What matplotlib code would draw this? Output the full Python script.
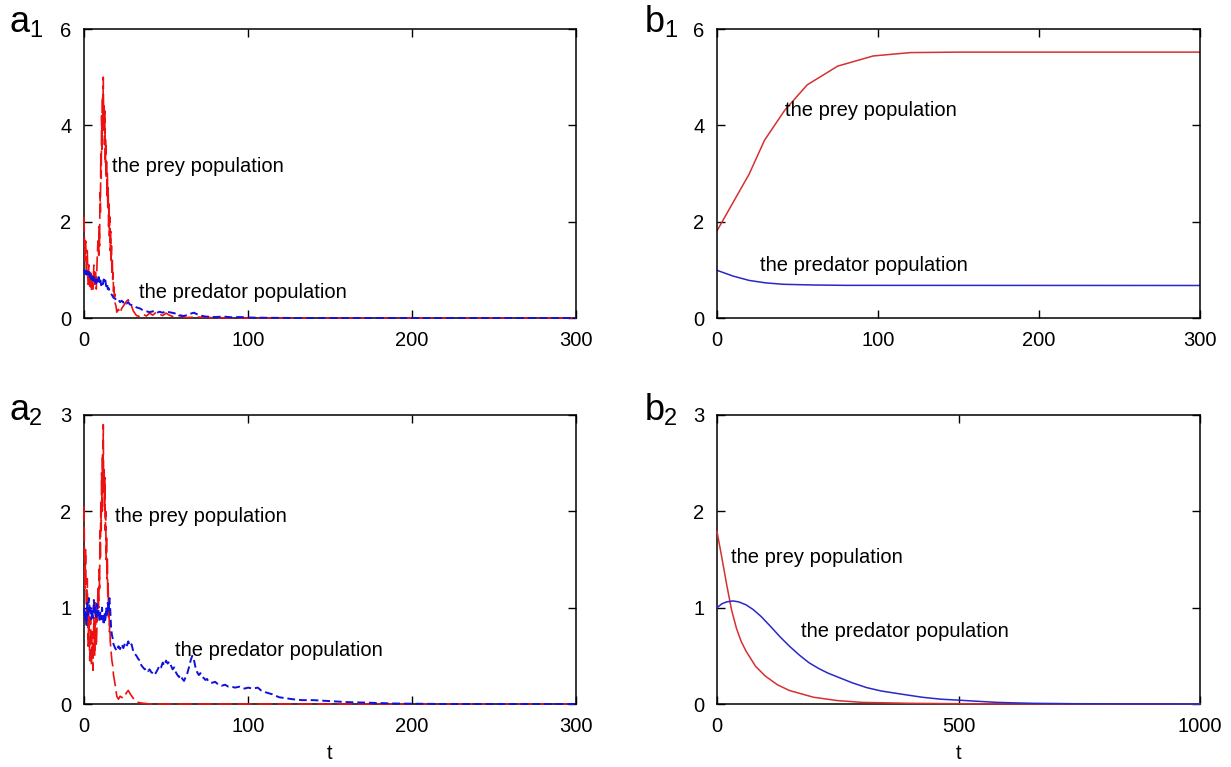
import matplotlib
matplotlib.use("Agg")
import matplotlib.pyplot as plt

plt.rcParams['font.family'] = ['Liberation Sans', 'DejaVu Sans']

# a1: stochastic model, prey and predator
a1_prey_t = [0, 0.5, 1, 1.5, 2, 2.5, 3, 3.5, 4, 4.5, 5, 5.5, 6, 6.5, 7, 7.5, 8, 8.5,
             9, 9.25, 9.5, 9.75, 10, 10.25, 10.5, 10.75, 11, 11.25, 11.5, 11.75, 12, 12.25, 12.5, 12.75,
             13, 13.25, 13.5, 13.75, 14, 14.25, 14.5, 14.75, 15, 15.25, 15.5, 15.75, 16, 16.25, 16.5, 16.75,
             17, 17.25, 17.5, 17.75, 18, 18.25, 18.5, 18.75, 19, 19.5,
             20, 21, 22, 23, 24, 25, 26, 27, 28, 29, 30, 31, 32, 34, 36, 38, 40, 42, 44, 46,
             48, 50, 52, 55, 58, 62, 70, 80, 100, 300]
a1_prey = [2.1, 1.2, 1.6, 0.9, 1.4, 0.7, 1.1, 0.6, 1.0, 0.55, 0.9, 0.6, 1.1, 0.7, 0.95, 0.6, 1.2, 1.6,
           1.3, 1.9, 1.5, 2.6, 2.2, 3.4, 2.9, 4.2, 3.5, 4.6, 3.9, 5.0, 4.0, 4.4, 3.6, 4.3,
           3.2, 3.7, 2.9, 3.3, 2.5, 3.0, 2.3, 2.7, 1.9, 2.4, 1.7, 2.1, 1.4, 1.8, 1.2, 1.5,
           0.95, 1.2, 0.8, 0.95, 0.55, 0.7, 0.45, 0.5, 0.3, 0.25,
           0.12, 0.18, 0.1, 0.2, 0.25, 0.3, 0.35, 0.38, 0.3, 0.25, 0.15, 0.1, 0.05, 0.03, 0.08, 0.04, 0.1, 0.06, 0.12, 0.08,
           0.05, 0.1, 0.06, 0.02, 0.05, 0.01, 0.02, 0.005, 0, 0]

a1_pred_t = [0, 0.5, 1, 1.5, 2, 2.5, 3, 3.5, 4, 4.5, 5, 5.5, 6, 6.5, 7, 7.5, 8, 8.5, 9, 9.5,
             10, 10.5, 11, 11.5, 12, 12.5, 13, 13.5, 14, 14.5, 15, 16, 17, 18, 19, 20, 21, 22, 23, 24,
             25, 26, 27, 28, 30, 32, 34, 36, 38, 40, 42, 44, 46, 48, 50, 52, 55, 58, 61, 64,
             67, 70, 74, 80, 85, 90, 95, 100, 110, 130, 300]
a1_pred = [1.0, 0.92, 1.02, 0.9, 0.97, 0.88, 0.95, 0.85, 0.93, 0.8, 0.88, 0.78, 0.9, 0.75, 0.82, 0.72, 0.8, 0.74, 0.85, 0.7,
           0.78, 0.68, 0.75, 0.7, 0.8, 0.72, 0.78, 0.66, 0.72, 0.6, 0.62, 0.52, 0.48, 0.42, 0.4, 0.36, 0.38, 0.33, 0.36, 0.32,
           0.35, 0.3, 0.33, 0.28, 0.26, 0.22, 0.2, 0.16, 0.14, 0.12, 0.14, 0.1, 0.13, 0.11, 0.14, 0.12, 0.1, 0.06, 0.04, 0.08,
           0.11, 0.06, 0.03, 0.02, 0.03, 0.015, 0.02, 0.01, 0.005, 0, 0]

# a2: stochastic model, second case
a2_prey_t = [0, 0.5, 1, 1.5, 2, 2.5, 3, 3.5, 4, 4.5, 5, 5.5, 6, 6.5, 7, 7.5, 8, 8.5,
             9, 9.25, 9.5, 9.75, 10, 10.25, 10.5, 10.75, 11, 11.25, 11.5, 11.75, 12, 12.25, 12.5, 12.75,
             13, 13.25, 13.5, 13.75, 14, 14.25, 14.5, 14.75, 15, 15.25, 15.5, 15.75, 16, 16.5, 17, 17.5,
             18, 19, 20, 21, 22, 24, 26, 27, 28, 30, 32, 35, 40, 300]
a2_prey = [2.05, 1.2, 1.6, 0.8, 1.3, 0.6, 1.0, 0.45, 0.9, 0.4, 0.75, 0.35, 0.9, 0.5, 1.05, 0.6, 0.85, 1.2,
           1.0, 1.4, 1.2, 1.8, 1.5, 2.1, 1.8, 2.4, 2.0, 2.6, 2.2, 2.9, 2.2, 2.45, 2.0, 2.35,
           1.8, 2.0, 1.5, 1.75, 1.3, 1.5, 1.1, 1.25, 0.9, 1.0, 0.75, 0.85, 0.65, 0.55, 0.45, 0.4,
           0.3, 0.2, 0.08, 0.05, 0.08, 0.06, 0.12, 0.14, 0.11, 0.06, 0.02, 0.01, 0, 0]

a2_pred_t = [0, 0.5, 1, 1.5, 2, 2.5, 3, 3.5, 4, 4.5, 5, 5.5, 6, 6.5, 7, 7.5, 8, 8.5, 9, 9.5,
             10, 10.5, 11, 11.5, 12, 12.5, 13, 13.5, 14, 14.5, 15, 15.5, 16, 16.5, 17, 17.5, 18, 19, 20, 21,
             22, 23, 24, 25, 26, 27, 28, 29, 30, 31, 32, 33, 34, 35, 36, 37, 38, 39, 40, 41,
             42, 43, 44, 45, 46, 47, 48, 49, 50, 51, 52, 53, 54, 55, 56, 57, 58, 59, 60, 61,
             62, 63, 64, 65, 66, 67, 68, 69, 70, 71, 72, 73, 74, 75, 76, 78, 80, 82, 84, 86,
             88, 90, 92, 95, 98, 100, 103, 106, 108, 111, 115, 119, 123, 127, 133, 140, 150, 160, 170, 180,
             190, 200, 220, 300]
a2_pred = [1.0, 0.88, 0.95, 0.82, 1.05, 0.9, 1.1, 0.95, 1.0, 0.88, 0.98, 0.9, 1.08, 0.95, 1.02, 0.88, 1.04, 0.92, 0.98, 0.85,
           0.96, 0.88, 1.0, 0.9, 0.82, 0.95, 0.85, 1.0, 0.9, 1.05, 0.95, 1.1, 0.98, 0.8, 0.72, 0.68, 0.62, 0.58, 0.55, 0.6,
           0.57, 0.62, 0.58, 0.63, 0.6, 0.65, 0.6, 0.62, 0.55, 0.52, 0.5, 0.47, 0.45, 0.4, 0.38, 0.36, 0.37, 0.34, 0.36, 0.33,
           0.32, 0.3, 0.33, 0.36, 0.4, 0.38, 0.43, 0.4, 0.45, 0.42, 0.44, 0.4, 0.36, 0.38, 0.33, 0.3, 0.28, 0.3, 0.26, 0.24,
           0.28, 0.32, 0.38, 0.45, 0.5, 0.46, 0.38, 0.33, 0.3, 0.32, 0.28, 0.27, 0.25, 0.26, 0.23, 0.22, 0.23, 0.2, 0.19, 0.2,
           0.18, 0.18, 0.17, 0.18, 0.16, 0.17, 0.16, 0.17, 0.14, 0.12, 0.1, 0.07, 0.06, 0.05, 0.04, 0.04, 0.03, 0.02, 0.015, 0.01,
           0.005, 0.003, 0, 0]

# b1: deterministic model
b1_prey_t = [0, 20, 29.5, 42, 56, 75, 97, 120, 150, 300]
b1_prey = [1.81, 2.99, 3.69, 4.31, 4.84, 5.23, 5.44, 5.51, 5.52, 5.52]
b1_pred_t = [0, 10, 20, 30, 41, 60, 80, 300]
b1_pred = [0.99, 0.87, 0.78, 0.73, 0.70, 0.685, 0.678, 0.675]

# b2: deterministic model, second case
b2_prey_t = [0, 10, 20, 30, 40, 50, 60, 80, 100, 125, 150, 200, 250, 300, 400, 500, 600, 1000]
b2_prey = [1.79, 1.52, 1.24, 0.98, 0.79, 0.65, 0.55, 0.39, 0.29, 0.2, 0.14, 0.07, 0.035, 0.017, 0.007, 0.003, 0.001, 0.0]
b2_pred_t = [0, 10, 20, 33, 45, 60, 75, 91, 110, 130, 150, 170, 190, 210, 230, 255, 280, 310, 340, 385,
             425, 463, 500, 540, 579, 620, 656, 700, 734, 800, 850, 1000]
b2_pred = [1.0, 1.04, 1.06, 1.07, 1.06, 1.03, 0.98, 0.91, 0.81, 0.70, 0.60, 0.51, 0.43, 0.37, 0.32, 0.27, 0.22, 0.17, 0.135, 0.1,
           0.07, 0.05, 0.04, 0.028, 0.017, 0.011, 0.007, 0.005, 0.003, 0.002, 0.001, 0.0]

RED = '#ee1111'
BLUE = '#1111dd'
RED_B = '#d63030'
BLUE_B = '#2828c8'
FS = 14.5

fig = plt.figure(figsize=(12.31, 7.67), dpi=100)

W = 1231.0
H = 767.0


def make_ax(x0, x1, ytop, ybot):
    return fig.add_axes([x0 / W, 1 - ybot / H, (x1 - x0) / W, (ybot - ytop) / H])


ax_a1 = make_ax(84, 576, 29, 318)
ax_b1 = make_ax(717, 1200, 29, 318)
ax_a2 = make_ax(84, 576, 415, 704)
ax_b2 = make_ax(717, 1200, 415, 704)

# stochastic panels (drawn over the frame so the zero line shows)
for ax, pt, p, qt, q in ((ax_a1, a1_prey_t, a1_prey, a1_pred_t, a1_pred),
                         (ax_a2, a2_prey_t, a2_prey, a2_pred_t, a2_pred)):
    ax.plot(pt, p, color=RED, lw=1.2, ls=(0, (9, 3)), zorder=3, clip_on=False)
    ax.plot(qt, q, color=BLUE, lw=1.4, ls=(0, (4, 2)), zorder=3, clip_on=False)

# deterministic panels
ax_b1.plot(b1_prey_t, b1_prey, color=RED_B, lw=1.1)
ax_b1.plot(b1_pred_t, b1_pred, color=BLUE_B, lw=1.1)
ax_b2.plot(b2_prey_t, b2_prey, color=RED_B, lw=1.1, zorder=3, clip_on=False)
ax_b2.plot(b2_pred_t, b2_pred, color=BLUE_B, lw=1.1, zorder=3, clip_on=False)

for ax in (ax_a1, ax_b1):
    ax.set_xlim(0, 300)
    ax.set_ylim(0, 6)
    ax.set_xticks([0, 100, 200, 300])
    ax.set_yticks([0, 2, 4, 6])
ax_a2.set_xlim(0, 300)
ax_a2.set_ylim(0, 3)
ax_a2.set_xticks([0, 100, 200, 300])
ax_a2.set_yticks([0, 1, 2, 3])
ax_b2.set_xlim(0, 1000)
ax_b2.set_ylim(0, 3)
ax_b2.set_xticks([0, 500, 1000])
ax_b2.set_yticks([0, 1, 2, 3])

for ax in (ax_a1, ax_b1, ax_a2, ax_b2):
    ax.tick_params(direction='in', top=True, right=True, length=6, width=1,
                   labelsize=FS, pad=9)
    for s in ax.spines.values():
        s.set_linewidth(1.1)

ax_a2.set_xlabel('t', fontsize=FS, labelpad=6)
ax_b2.set_xlabel('t', fontsize=FS, labelpad=6)

# curve labels
ax_a1.text(17, 3.15, 'the prey population', fontsize=FS, va='center')
ax_a1.text(33.5, 0.52, 'the predator population', fontsize=FS, va='center')
ax_a2.text(19, 1.95, 'the prey population', fontsize=FS, va='center')
ax_a2.text(55.5, 0.56, 'the predator population', fontsize=FS, va='center')
ax_b1.text(42, 4.3, 'the prey population', fontsize=FS, va='center')
ax_b1.text(26.7, 1.1, 'the predator population', fontsize=FS, va='center')
ax_b2.text(29, 1.52, 'the prey population', fontsize=FS, va='center')
ax_b2.text(174, 0.75, 'the predator population', fontsize=FS, va='center')

# panel labels
panels = [('a', '1', 10, 32), ('b', '1', 645, 32), ('a', '2', 10, 420), ('b', '2', 645, 420)]
for letter, sub, px, py in panels:
    fig.text(px / W, 1 - py / H, letter, fontsize=26, va='baseline', ha='left')
    fig.text((px + 19) / W, 1 - (py + 5) / H, sub, fontsize=17, va='baseline', ha='left')

fig.savefig('out.png', dpi=100)
